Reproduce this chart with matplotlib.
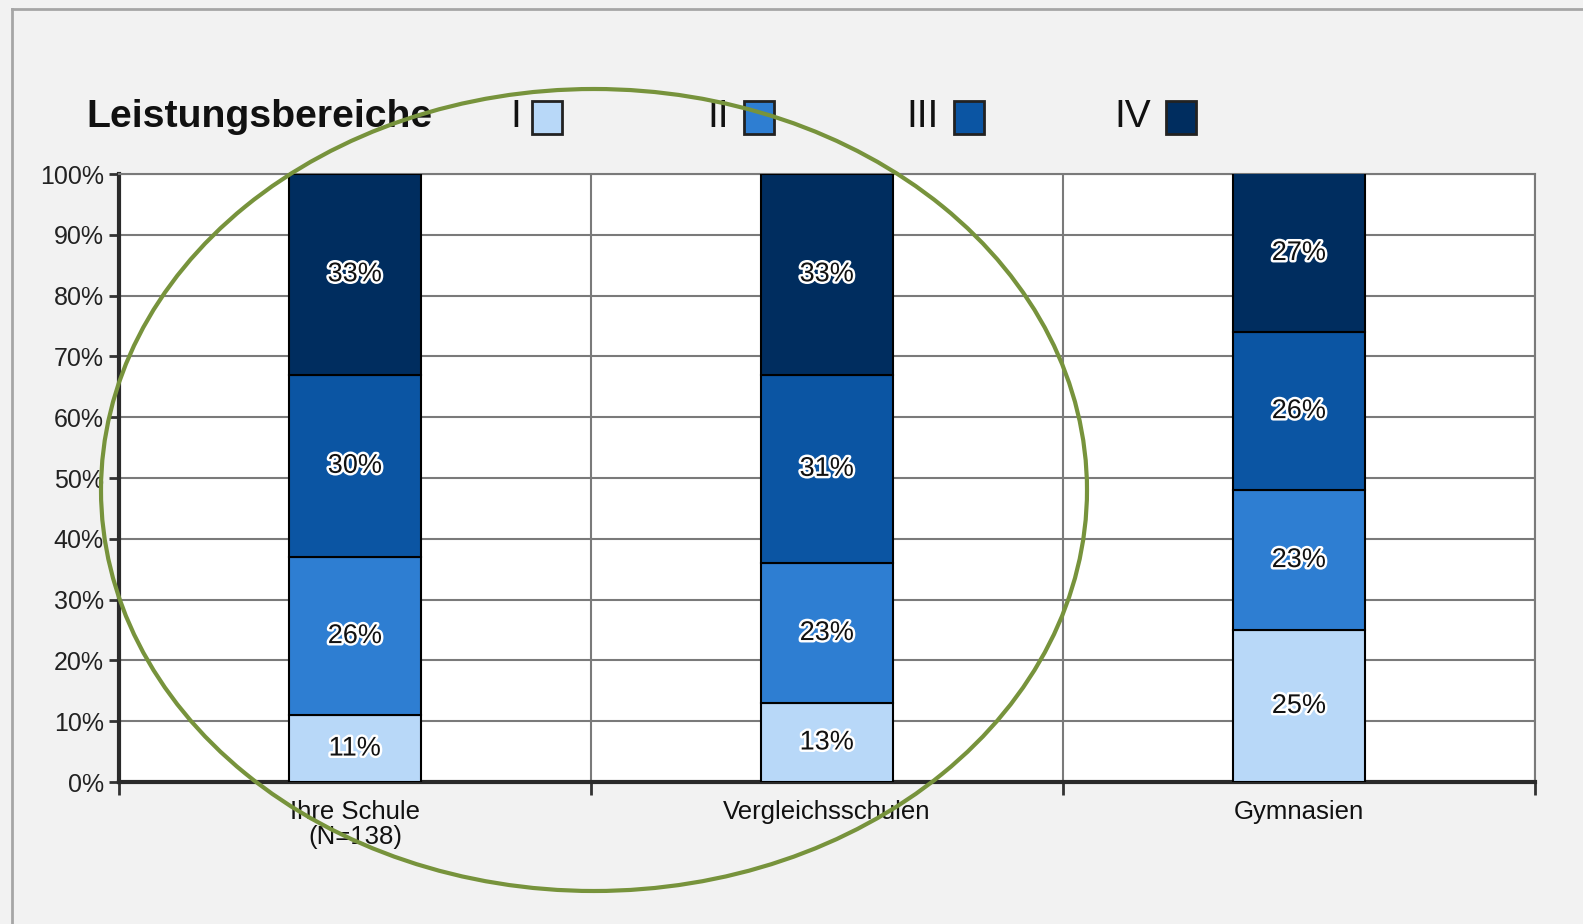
import matplotlib
matplotlib.use("Agg")
import matplotlib.pyplot as plt
import matplotlib.patheffects as pe
from matplotlib.patches import Rectangle, Ellipse
from matplotlib.lines import Line2D
import numpy as np

plt.rcParams['font.family'] = ['Liberation Sans', 'DejaVu Sans']

categories = ["Ihre Schule\n(N=138)", "Vergleichsschulen", "Gymnasien"]
levels = ["I", "II", "III", "IV"]
values = {
    "I":   [11, 13, 25],
    "II":  [26, 23, 23],
    "III": [30, 31, 26],
    "IV":  [33, 33, 27],
}
colors = {"I": "#b8d8f8", "II": "#2e7ed2", "III": "#0b55a3", "IV": "#002d5f"}
yticks = [0, 10, 20, 30, 40, 50, 60, 70, 80, 90, 100]
ytick_labels = [f"{v}%" for v in yticks]

W, H = 1583, 924
fig = plt.figure(figsize=(W / 100, H / 100), dpi=100)
fig.patch.set_facecolor("#f2f2f2")

def fx(px):
    return px / W

def fy(py):
    return 1 - py / H

ax = fig.add_axes([fx(119), fy(782), fx(1535) - fx(119), fy(174) - fy(782)])
ax.set_facecolor("white")

x = np.arange(len(categories))
bottom = np.zeros(len(categories))
for lev in levels:
    h = np.array(values[lev], dtype=float)
    ax.bar(x, h, width=0.28, bottom=bottom, color=colors[lev],
           edgecolor="black", linewidth=1.5, zorder=3)
    for xi, b, hh in zip(x, bottom, h):
        top = min(b + hh, 100)
        ax.text(xi, (b + top) / 2, f"{int(hh)}%", ha="center", va="center",
                fontsize=19.5, color="#111111", zorder=5,
                path_effects=[pe.withStroke(linewidth=3.5, foreground="white")])
    bottom += h

ax.set_xlim(-0.5, 2.5)
ax.set_ylim(0, 100)
ax.set_yticks(yticks)
ax.set_yticklabels(ytick_labels, fontsize=18, color="#222222")
ax.set_xticks([-0.5, 0.5, 1.5, 2.5])
ax.set_xticklabels([])
ax.set_xticks(x, minor=True)
ax.set_xticklabels(categories, minor=True, fontsize=18.5, color="#111111",
                   linespacing=1.05)
ax.tick_params(axis="x", which="minor", length=0, pad=13)
ax.tick_params(axis="x", which="major", length=9, width=2, color="#333333", direction="out")
ax.tick_params(axis="y", length=7, width=2, color="#333333", pad=4)

ax.grid(True, axis="y", color="#7a7a7a", linewidth=1.5, zorder=0)
ax.grid(True, axis="x", which="major", color="#7a7a7a", linewidth=1.5, zorder=0)
ax.set_axisbelow(True)

for s in ["top", "right"]:
    ax.spines[s].set_color("#7a7a7a")
    ax.spines[s].set_linewidth(1.5)
for s in ["left", "bottom"]:
    ax.spines[s].set_color("#2a2a2a")
    ax.spines[s].set_linewidth(3)

# Legend (manual, figure coordinates)
fig.text(fx(86), fy(117), "Leistungsbereiche", fontsize=28.3, fontweight="bold",
         ha="left", va="center", color="#111111")
label_right = [521, 729, 939, 1151]
square_left = [532, 744, 954, 1166]
for lev, lr, sl in zip(levels, label_right, square_left):
    fig.text(fx(lr), fy(117), lev, fontsize=28, ha="right", va="center", color="#111111")
    fig.patches.append(Rectangle((fx(sl), fy(134)), fx(30), fy(101) - fy(134),
                                 transform=fig.transFigure, facecolor=colors[lev],
                                 edgecolor="#222222", linewidth=2))

# Frame lines
fig.lines.append(Line2D([fx(12), 1], [fy(9), fy(9)], transform=fig.transFigure,
                        color="#a6a6a6", linewidth=2))
fig.lines.append(Line2D([fx(12), fx(12)], [fy(9), 0], transform=fig.transFigure,
                        color="#a6a6a6", linewidth=2))

# Green highlight ellipse
fig.patches.append(Ellipse((fx(594), fy(490)), fx(986), 802 / H,
                           transform=fig.transFigure, facecolor="none",
                           edgecolor="#77933c", linewidth=3, zorder=10))

fig.savefig("out.png", dpi=100, facecolor=fig.get_facecolor())
